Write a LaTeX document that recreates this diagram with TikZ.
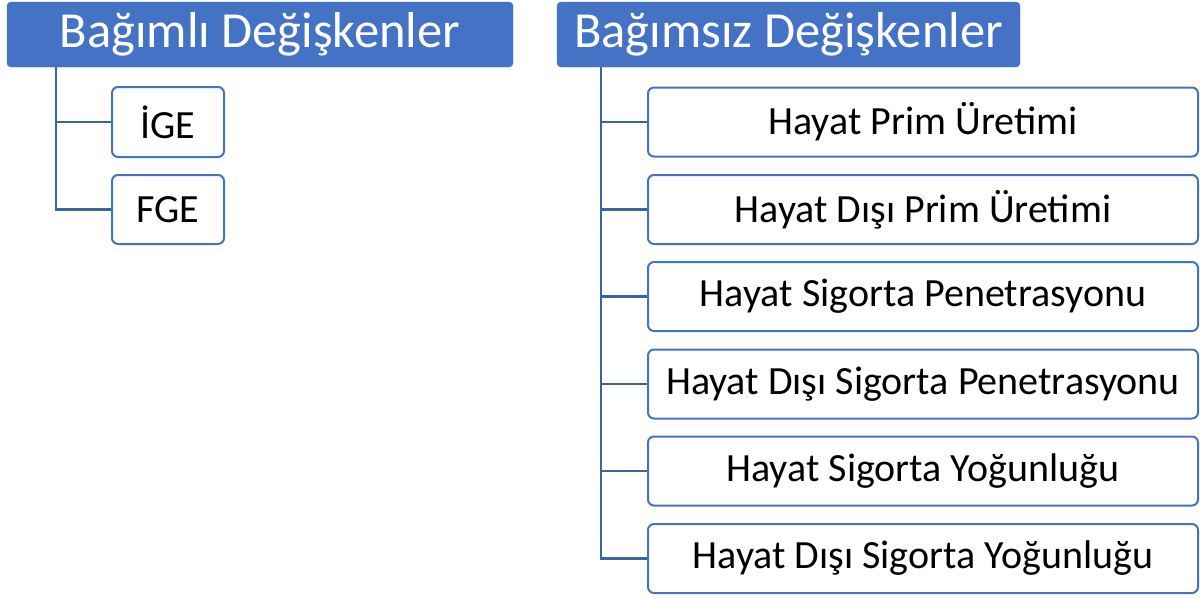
\documentclass[tikz,border=0pt]{standalone}
\usepackage{fontspec}
\setmainfont{Carlito}
\definecolor{hdrblue}{HTML}{4472C4}
\definecolor{linkblue}{HTML}{3E62A8}
\begin{document}
\begin{tikzpicture}[x=1pt,y=-1pt,
  hdr/.style={draw=hdrblue,fill=hdrblue,rounded corners=4pt,text=white,
    font=\fontsize{50.5}{56}\selectfont,inner sep=0pt},
  item/.style={draw=hdrblue,line width=2pt,fill=white,rounded corners=6pt,
    font=\fontsize{40}{46}\selectfont,inner sep=0pt},
  link/.style={draw=linkblue,line width=2.2pt}]
\useasboundingbox (0,0) rectangle (1200,598);
% headers
\node[hdr,minimum width=506pt,minimum height=65pt] (h1) at (260,34.5) {Bağımlı Değişkenler};
\node[hdr,minimum width=463pt,minimum height=65pt] (h2) at (788.5,34.5) {Bağımsız Değişkenler};
% left items
\node[item,minimum width=112pt,minimum height=70pt] (l1) at (168,122) {İGE};
\node[item,minimum width=112pt,minimum height=69pt] (l2) at (168,209.5) {FGE};
% right items
\foreach \n/\y/\t in {r1/122/Hayat Prim Üretimi,
  r2/209.5/Hayat Dışı Prim Üretimi,
  r3/296.5/Hayat Sigorta Penetrasyonu,
  r4/384/Hayat Dışı Sigorta Penetrasyonu,
  r5/471/Hayat Sigorta Yoğunluğu,
  r6/558.5/Hayat Dışı Sigorta Yoğunluğu}
  \node[item,minimum width=550pt,minimum height=69pt] (\n) at (923,\y) {\t};
% connectors
\foreach \b in {l1,l2}
  \draw[link] (56,0 |- h1.south) -- (56,0 |- \b.west) -- (\b.west);
\foreach \b in {r1,r2,r3,r4,r5,r6}
  \draw[link] (601,0 |- h2.south) -- (601,0 |- \b.west) -- (\b.west);
\end{tikzpicture}
\end{document}
